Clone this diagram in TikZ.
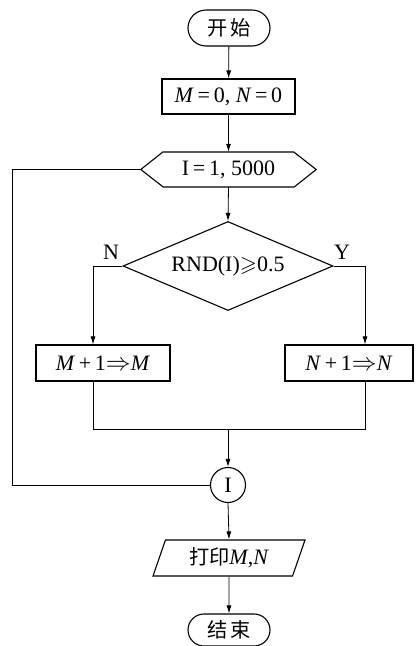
\documentclass[tikz,border=0pt]{standalone}
\usepackage{amssymb}
\usepackage{fontspec}
\setmainfont{Liberation Serif}
\newfontfamily\cjk{Noto Sans CJK SC}[Scale=0.92]
\usetikzlibrary{shapes.geometric,shapes.misc,arrows.meta}
\newcommand{\bigimp}{{\fontsize{25}{25}\selectfont$\Rightarrow$}}
\begin{document}
\begin{tikzpicture}[x=1pt,y=-1pt,
  every node/.style={font=\fontsize{22}{24}\selectfont, inner sep=0pt},
  boxstyle/.style={draw, line width=1.1pt, rectangle},
  termstyle/.style={draw, line width=1.1pt, rounded rectangle, minimum width=82pt, minimum height=36pt},
  conn/.style={line width=0.8pt},
  arr/.style={conn, -{Latex[length=8pt,width=5pt]}}]
\useasboundingbox (0,0) rectangle (416,646);
\node[termstyle] (start) at (229,28) {\cjk 开\,始};
\node[boxstyle, minimum width=133pt, minimum height=35pt] (init) at (228.5,96.5) {\textit{M}\,=\,0, \textit{N}\,=\,0};
\node[minimum width=175pt, minimum height=35pt] (loop) at (228.5,169.5) {I\,=\,1, 5000};
\draw[line width=1.1pt] (loop.west) -- ++(22,-17.5) -- ++(131,0) -- (loop.east) -- ++(-22,17.5) -- ++(-131,0) -- cycle;
\node[draw, line width=1.1pt, diamond, minimum width=210pt, minimum height=89pt, aspect=2.36] (cond) at (228,266) {RND(I)$\geqslant$0.5};
\node[boxstyle, minimum width=134pt, minimum height=36pt] (lbox) at (103,363) {\textit{M}\,+\,1\bigimp\textit{M}};
\node[boxstyle, minimum width=128pt, minimum height=36pt] (rbox) at (349,363) {\textit{N}\,+\,1\bigimp\textit{N}};
\node[draw, line width=1.1pt, circle, minimum size=35pt] (circ) at (228,485) {I};
\node[draw, line width=1.1pt, trapezium, trapezium left angle=58.6, trapezium right angle=121.4, trapezium stretches body, minimum width=152pt, minimum height=36pt] (print) at (229,558) {{\cjk 打印}\textit{M},\textit{N}};
\node[termstyle, minimum height=32pt] (end) at (229,630) {\cjk 结\,束};
\node (nl) at (111,252) {N};
\node (yl) at (342,252) {Y};
\coordinate (lin) at (93,0);
\coordinate (rin) at (365,0);
\coordinate (mrg) at (228,429);
\coordinate (lx) at (12,0);
\draw[arr] (start) -- (init);
\draw[arr] (init) -- (loop);
\draw[arr] (loop.south) -- (cond.north);
\draw[arr] (cond.west) -| (lin |- lbox.north);
\draw[arr] (cond.east) -| (rin |- rbox.north);
\draw[conn] (lin |- lbox.south) -- (lin |- mrg) -- (rin |- mrg) -- (rin |- rbox.south);
\draw[arr] (mrg) -- (circ.north);
\draw[conn] (circ.west) -- (lx |- circ.west) -- (lx |- loop.west) -- (loop.west);
\draw[arr] (circ.south) -- (print.north);
\draw[arr] (print.south) -- (end.north);
\end{tikzpicture}
\end{document}
